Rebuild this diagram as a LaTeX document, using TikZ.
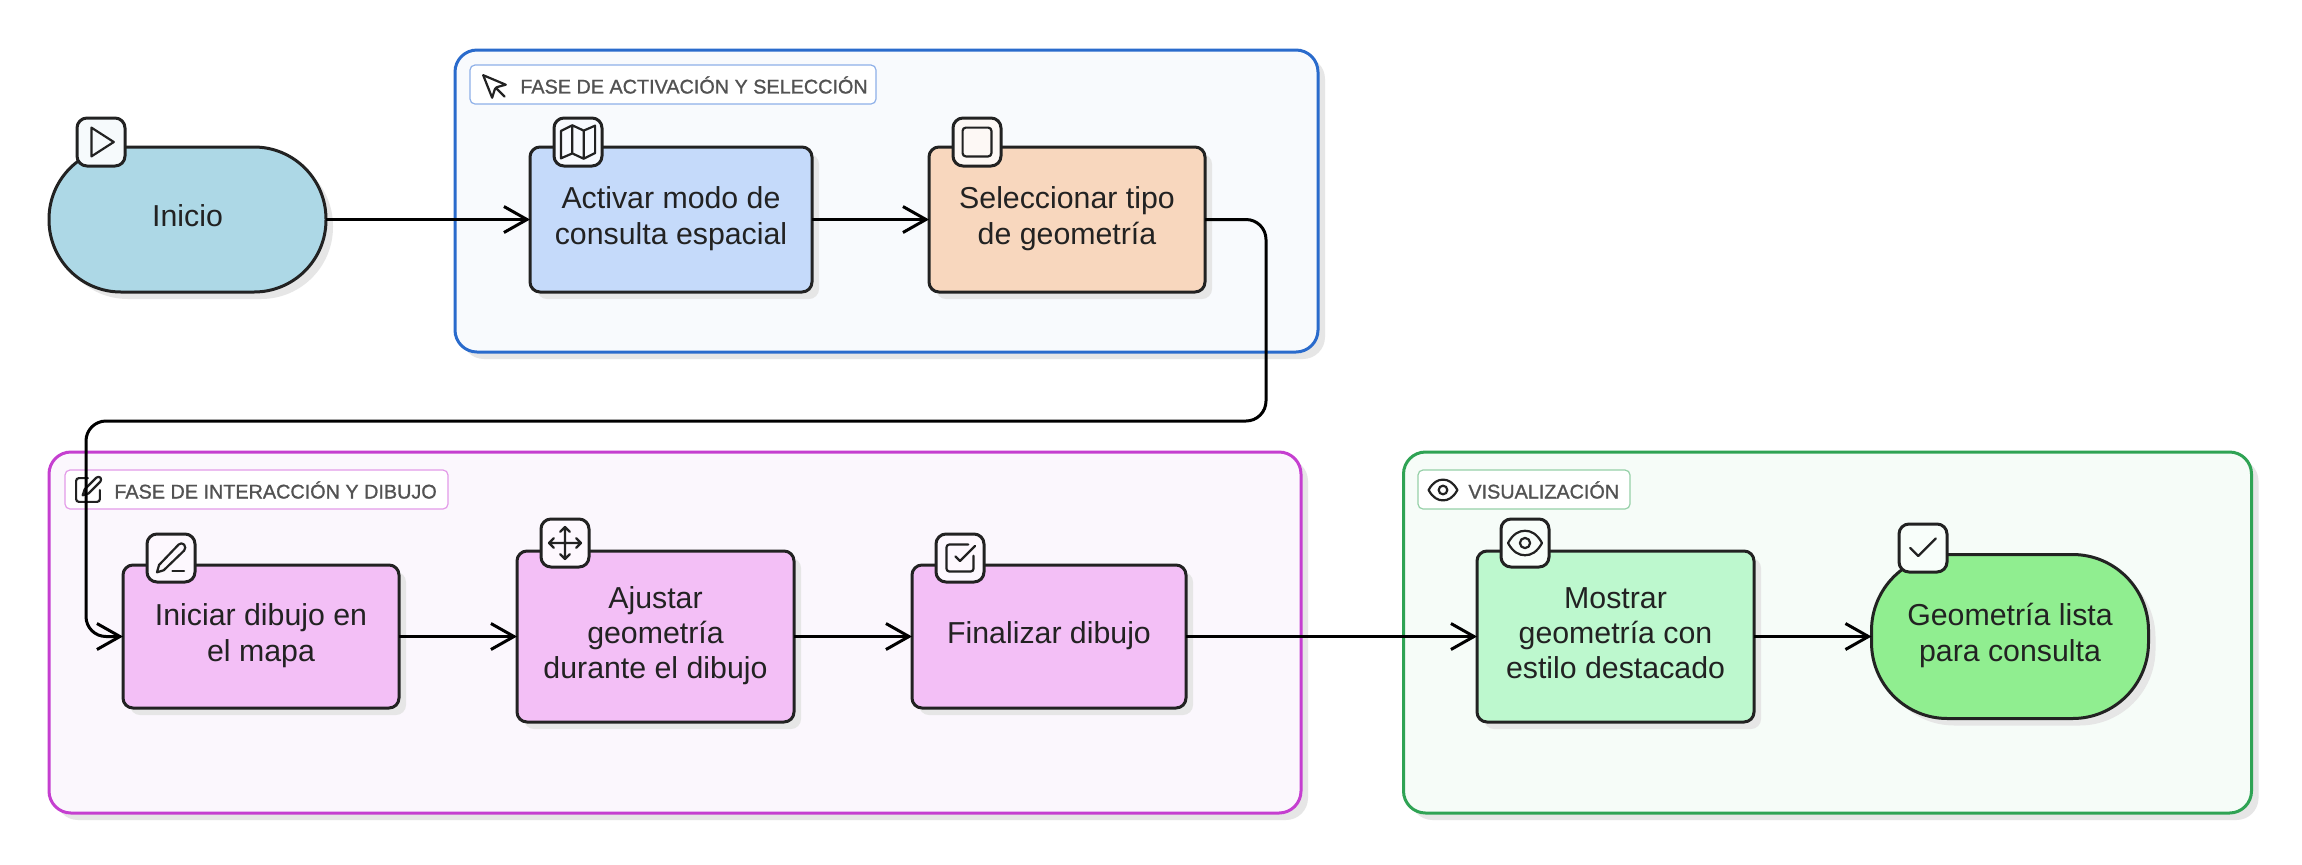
\documentclass[tikz,border=0pt]{standalone}
\usepackage{fontspec}
\setmainfont{Liberation Sans}
\newfontfamily\labfont[FakeBold=1.1]{Liberation Sans}
\usetikzlibrary{arrows.meta,shadows}
\definecolor{ink}{HTML}{222222}
\definecolor{shade}{HTML}{E6E6E6}
\newcommand{\nodetext}[1]{\raisebox{.7pt}{\fontsize{15.15pt}{17.6pt}\selectfont\color{ink}\begin{tabular}{@{}c@{}}#1\end{tabular}}}
\tikzset{
  base/.style={draw=ink,line width=1.5pt,outer sep=0pt,inner sep=0pt,
    general shadow={shadow xshift=3.5pt,shadow yshift=-3.5pt,fill=shade}},
  procbox/.style={base,rounded corners=5pt,minimum width=#1,minimum height=72.5pt},
  tallbox/.style={base,rounded corners=5pt,minimum width=#1,minimum height=85.5pt},
  stadium/.style={base,rounded corners=36pt,minimum width=138.5pt},
  groupbox/.style={line width=1.5pt,rounded corners=11pt,outer sep=0pt,inner sep=0pt,
    general shadow={shadow xshift=3.5pt,shadow yshift=-3.5pt,fill=shade}},
  labelbox/.style={line width=.6pt,rounded corners=2.5pt,fill=white,outer sep=0pt,inner sep=0pt,minimum height=19.5pt},
  labeltext/.style={anchor=west,inner sep=0pt,text=black!68,font=\labfont\fontsize{9.9pt}{12pt}\selectfont},
  badge/.style={draw=ink,line width=1.5pt,rounded corners=5pt,minimum size=24pt,inner sep=0pt,outer sep=0pt},
  conn/.style={draw=black,line width=1.5pt,-{Straight Barb[length=11.5pt,width=13pt]},rounded corners=10pt},
  ico/.style={draw=ink,line width=1.1pt,line cap=round,line join=round,fill=none},
}
\newcommand{\iconat}[4]{\begin{scope}[shift={(#1,#2)},x=#3,y=-#3]\begin{scope}[shift={(-12,-12)}]#4\end{scope}\end{scope}}
\newcommand{\icoplay}{\draw[ico] (6,3) -- (20,12) -- (6,21) -- cycle;}
\newcommand{\icomap}{\draw[ico] (3,6.2) -- (9,3.2) -- (15,6) -- (21,3.4) -- (21,17.8) -- (15,20.8) -- (9,18) -- (3,20.6) -- cycle (9,3.2) -- (9,18) (15,6) -- (15,20.8);}
\newcommand{\icosquare}{\draw[ico,rounded corners=1.6pt] (3,3) rectangle (21,21);}
\newcommand{\icopointer}{\draw[ico] (3.3,3.3) -- (9.9,19.9) -- (11.9,13.6) -- (13.4,12.1) -- (19.9,10.3) -- cycle (12.6,12.6) -- (19,19);}
\newcommand{\icosqpen}{\draw[ico,rounded corners=1.4pt] (12,3) -- (3,3) -- (3,21) -- (21,21) -- (21,12);\draw[ico] (18.4,2.6) .. controls (19.2,1.8) and (20.6,1.9) .. (21.4,2.6) .. controls (22,3.4) and (22,4.8) .. (21.4,5.6) -- (12.4,14.6) -- (8,16) -- (9.4,11.6) -- cycle;}
\newcommand{\icopen}{\draw[ico] (13,21) -- (21,21);\draw[ico] (17.2,2.8) .. controls (18.2,1.8) and (20,1.6) .. (21,2.8) .. controls (22,4) and (22,5.8) .. (21,6.9) -- (7,20.4) -- (2.4,21.8) -- (3.8,16.8) -- cycle;}
\newcommand{\icomove}{\draw[ico] (12,2) -- (12,22) (2,12) -- (22,12) (15,19) -- (12,22) -- (9,19) (19,9) -- (22,12) -- (19,15) (5,9) -- (2,12) -- (5,15) (9,5) -- (12,2) -- (15,5);}
\newcommand{\icochecksq}{\draw[ico,rounded corners=1.4pt] (21,10.5) -- (21,21) -- (3,21) -- (3,3) -- (17.5,3);\draw[ico] (9,11) -- (12,14) -- (22,4);}
\newcommand{\icoeye}{\draw[ico] (2,12) .. controls (5,6.5) and (8.5,4.8) .. (12,4.8) .. controls (15.5,4.8) and (19,6.5) .. (22,12) .. controls (19,17.5) and (15.5,19.2) .. (12,19.2) .. controls (8.5,19.2) and (5,17.5) .. (2,12) -- cycle;\draw[ico] (12,12) circle[x radius=3,y radius=3];}
\newcommand{\icocheck}{\draw[ico] (20,6) -- (9,17) -- (4,12);}
\begin{document}
\begin{tikzpicture}[x=.5pt,y=-.5pt]
\fill[white] (0,0) rectangle (2302,864);
\path[use as bounding box] (0,0) rectangle (2302,864);

% groups
\node[groupbox,draw={rgb,255:red,42;green,107;blue,204},fill={rgb,255:red,248;green,250;blue,253},minimum width=431.5pt,minimum height=151pt] (g1) at (886.5,201) {};
\node[groupbox,draw={rgb,255:red,197;green,63;blue,208},fill={rgb,255:red,251;green,247;blue,253},minimum width=626pt,minimum height=180.5pt] (g2) at (675,632.5) {};
\node[groupbox,draw={rgb,255:red,47;green,163;blue,84},fill={rgb,255:red,246;green,252;blue,248},minimum width=424pt,minimum height=180.5pt] (g3) at (1827.5,632.5) {};

% group labels
\node[labelbox,draw={rgb,255:red,142;green,176;blue,232},minimum width=203pt] (l1) at (673,84.5) {};
\node[labelbox,draw={rgb,255:red,227;green,155;blue,232},minimum width=191.5pt] (l2) at (256.5,489.5) {};
\node[labelbox,draw={rgb,255:red,150;green,208;blue,168},minimum width=106pt] (l3) at (1524,489.5) {};
\node[labeltext] (l1t) at (520,85) {FASE DE ACTIVACIÓN Y SELECCIÓN};
\node[labeltext] (l2t) at (114,490) {FASE DE INTERACCIÓN Y DIBUJO};
\node[labeltext] (l3t) at (1468,490) {VISUALIZACIÓN};
\iconat{495}{87}{.68pt}{\icopointer}
\iconat{88}{490}{.66pt}{\icosqpen}
\iconat{1443}{490}{.72pt}{\icoeye}

% steps
\node[stadium,fill={rgb,255:red,173;green,216;blue,230},minimum height=72.5pt] (inicio) at (187.5,219.5) {\nodetext{Inicio}};
\node[procbox=141pt,fill={rgb,255:red,197;green,218;blue,250}] (activar) at (671,219.5) {\nodetext{Activar modo de\\consulta espacial}};
\node[procbox=138pt,fill={rgb,255:red,248;green,215;blue,190}] (selec) at (1067,219.5) {\nodetext{Seleccionar tipo\\de geometría}};
\node[procbox=138pt,fill={rgb,255:red,243;green,191;blue,246},minimum height=71.5pt] (iniciar) at (261,636.5) {\nodetext{Iniciar dibujo en\\el mapa}};
\node[tallbox=138.5pt,fill={rgb,255:red,243;green,191;blue,246}] (ajustar) at (655.5,636.5) {\nodetext{Ajustar\\geometría\\durante el dibujo}};
\node[procbox=137pt,fill={rgb,255:red,243;green,191;blue,246},minimum height=71.5pt] (final) at (1049,636.5) {\nodetext{Finalizar dibujo}};
\node[tallbox=138.5pt,fill={rgb,255:red,189;green,248;blue,206}] (mostrar) at (1615.5,636.5) {\nodetext{Mostrar\\geometría con\\estilo destacado}};
\node[stadium,rounded corners=38pt,fill={rgb,255:red,144;green,238;blue,144},minimum height=82pt] (geom) at (2010,636.5) {\nodetext{Geometría lista\\para consulta}};

% connectors
\coordinate (c1) at (1266,219.5);
\coordinate (c2) at (1266,421);
\coordinate (c3) at (86,421);
\coordinate (c4) at (86,636.5);
\draw[conn] (inicio.east) -- (activar.west);
\draw[conn] (activar.east) -- (selec.west);
\draw[conn] (selec.east) -- (c1) -- (c2) -- (c3) -- (c4) -- (iniciar.west);
\draw[conn] (iniciar.east) -- (ajustar.west);
\draw[conn] (ajustar.east) -- (final.west);
\draw[conn] (final.east) -- (mostrar.west);
\draw[conn] (mostrar.east) -- (geom.west);

% badges
\node[badge,fill={rgb,255:red,246;green,250;blue,252}] (b1) at (101,142) {};
\node[badge,fill={rgb,255:red,248;green,250;blue,254}] (b2) at (578,142) {};
\node[badge,fill={rgb,255:red,253;green,248;blue,245}] (b3) at (977,142) {};
\node[badge,fill={rgb,255:red,253;green,248;blue,254}] (b4) at (171,558) {};
\node[badge,fill={rgb,255:red,253;green,248;blue,254}] (b5) at (565,543) {};
\node[badge,fill={rgb,255:red,253;green,248;blue,254}] (b6) at (960,558) {};
\node[badge,fill={rgb,255:red,248;green,254;blue,250}] (b7) at (1525,543) {};
\node[badge,fill={rgb,255:red,248;green,254;blue,250}] (b8) at (1923,548) {};
\iconat{101}{142}{.8pt}{\icoplay}
\iconat{578}{142}{.95pt}{\icomap}
\iconat{977}{142}{.8pt}{\icosquare}
\iconat{171}{558}{.73pt}{\icopen}
\iconat{565}{543}{.8pt}{\icomove}
\iconat{960}{558}{.75pt}{\icochecksq}
\iconat{1525}{543}{.85pt}{\icoeye}
\iconat{1923}{548}{.8pt}{\icocheck}
\end{tikzpicture}
\end{document}
